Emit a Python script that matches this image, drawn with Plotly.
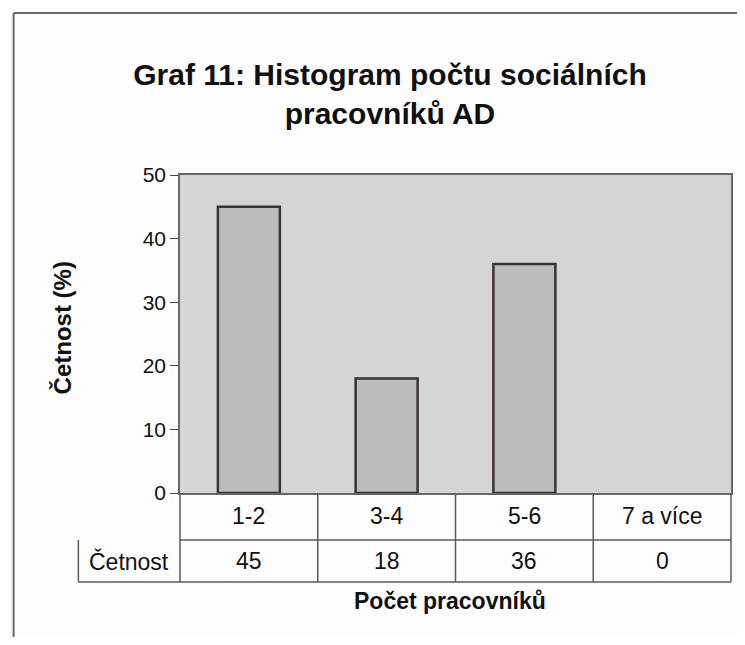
import plotly.graph_objects as go

categories = ["1-2", "3-4", "5-6", "7 a více"]
values = [45, 18, 36, 0]
row_label = "Četnost"
title_text = "Graf 11: Histogram počtu sociálních<br>pracovníků AD"
x_title = "Počet pracovníků"
y_title = "Četnost (%)"
y_ticks = [0, 10, 20, 30, 40, 50]

FONT = "Liberation Sans, Arial, sans-serif"
OFF = 8  # body margin of the page
W, H = 745 - 2 * OFF, 645 - 2 * OFF
# plot area in reference pixels: x 180..733, y 175..493
L = 180 - OFF
R = W - (733 - OFF)
T = 175 - OFF
B = H - (493 - OFF)
pw, ph = W - L - R, H - T - B

def px_x(px):
    return (px - OFF - L) / pw

def px_y(py):
    return (H - B - (py - OFF)) / ph

fig = go.Figure()
fig.add_trace(go.Bar(
    x=categories, y=values, width=0.45,
    marker=dict(color="#bcbcbc",
                line=dict(color="#3a3333", width=[2.5 if v > 0 else 0 for v in values])),
    showlegend=False, hoverinfo="x+y",
))

shapes = []
lc = "#5a5a5a"
n = len(categories)
row1_bottom = px_y(540)
row2_bottom = px_y(582)
label_left = px_x(78)
shapes.append(dict(type="line", xref="paper", yref="paper", x0=0, x1=1, y0=row1_bottom, y1=row1_bottom, line=dict(color=lc, width=1.5)))
shapes.append(dict(type="line", xref="paper", yref="paper", x0=label_left, x1=1, y0=row2_bottom, y1=row2_bottom, line=dict(color=lc, width=1.5)))
shapes.append(dict(type="line", xref="paper", yref="paper", x0=label_left, x1=label_left, y0=row2_bottom, y1=row1_bottom, line=dict(color=lc, width=1.5)))
for i in range(n + 1):
    shapes.append(dict(type="line", xref="paper", yref="paper", x0=i / n, x1=i / n, y0=row2_bottom, y1=0, line=dict(color=lc, width=1.5)))
# outer page frame
shapes.append(dict(type="line", xref="paper", yref="paper", x0=px_x(13), x1=px_x(13), y0=px_y(645), y1=px_y(13), line=dict(color="#6a6a6a", width=2)))
shapes.append(dict(type="line", xref="paper", yref="paper", x0=px_x(13), x1=px_x(745), y0=px_y(13), y1=px_y(13), line=dict(color="#6a6a6a", width=2)))

annotations = []
tfont = dict(family=FONT, size=23, color="#111111")
for i, (c, v) in enumerate(zip(categories, values)):
    annotations.append(dict(xref="paper", yref="paper", x=(i + 0.5) / n, y=px_y(516), text=c, showarrow=False,
                            xanchor="center", yanchor="middle", font=tfont))
    annotations.append(dict(xref="paper", yref="paper", x=(i + 0.5) / n, y=px_y(561), text=str(v), showarrow=False,
                            xanchor="center", yanchor="middle", font=tfont))
annotations.append(dict(xref="paper", yref="paper", x=label_left / 2, y=px_y(561), text=row_label, showarrow=False,
                        xanchor="center", yanchor="middle", font=tfont))
annotations.append(dict(xref="paper", yref="paper", x=px_x(451), y=px_y(601), text="<b>" + x_title + "</b>",
                        showarrow=False, xanchor="center", yanchor="middle",
                        font=dict(family=FONT, size=23, color="#111111")))
annotations.append(dict(xref="paper", yref="paper", x=px_x(62), y=px_y(328), text="<b>" + y_title + "</b>",
                        showarrow=False, xanchor="center", yanchor="middle", textangle=-90,
                        font=dict(family=FONT, size=24, color="#111111")))

fig.update_layout(
    width=W, height=H,
    margin=dict(l=L, r=R, t=T, b=B),
    paper_bgcolor="#fdfdfd",
    plot_bgcolor="#d5d5d5",
    title=dict(text="<b>" + title_text + "</b>", xref="container", yref="container",
               x=(390 - OFF) / W, xanchor="center", y=1 - (85 - OFF) / H, yanchor="middle",
               font=dict(family=FONT, size=30, color="#111111")),
    xaxis=dict(showticklabels=False, showgrid=False, zeroline=False, showline=True, linecolor="#666666",
               linewidth=1.5, mirror=True, ticks="", range=[-0.5, n - 0.5]),
    yaxis=dict(range=[0, 50], tickvals=y_ticks, showgrid=False, zeroline=False, showline=True, linecolor="#666666",
               linewidth=1.5, mirror=True, ticks="outside", ticklen=8, tickcolor="#444444",
               tickfont=dict(family=FONT, size=21, color="#111111")),
    shapes=shapes,
    annotations=annotations,
)

fig.write_html("out.html")
